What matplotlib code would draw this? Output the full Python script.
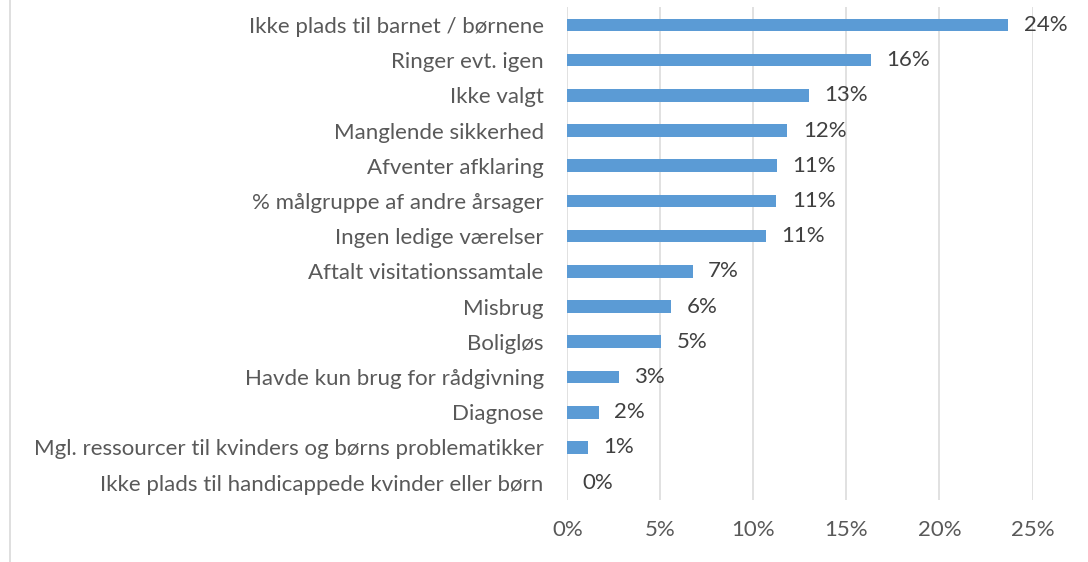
import matplotlib
matplotlib.use("Agg")
import matplotlib.pyplot as plt
from matplotlib.lines import Line2D

# kategorier (oppefra og ned) og andele i procent
kategorier = [
    "Ikke plads til barnet / børnene",
    "Ringer evt. igen",
    "Ikke valgt",
    "Manglende sikkerhed",
    "Afventer afklaring",
    "% målgruppe af andre årsager",
    "Ingen ledige værelser",
    "Aftalt visitationssamtale",
    "Misbrug",
    "Boligløs",
    "Havde kun brug for rådgivning",
    "Diagnose",
    "Mgl. ressourcer til kvinders og børns problematikker",
    "Ikke plads til handicappede kvinder eller børn",
]
andele = [23.7, 16.34, 12.97, 11.83, 11.26, 11.24, 10.7, 6.74, 5.59, 5.04, 2.77, 1.69, 1.1, 0.0]
x_ticks = [0, 5, 10, 15, 20, 25]

plt.rcParams['font.family'] = ['Lato', 'DejaVu Sans']

fig = plt.figure(figsize=(10.88, 5.62), dpi=100)
ax = fig.add_axes([0.5214, 0.110, 0.4276, 0.877])

pos = list(range(len(kategorier)))
ax.barh(pos, andele, height=0.36, color='#5B9BD5', zorder=3)

for p, v in zip(pos, andele):
    ax.annotate(f"{round(v):d}%", (v, p), xytext=(11, 0), textcoords='offset points',
                va='center', ha='left', fontsize=16, color='#404040')

ax.set_ylim(len(kategorier) - 0.5, -0.5)
ax.set_xlim(0, 25)
ax.set_yticks(pos)
ax.set_yticklabels(kategorier)
ax.set_xticks(x_ticks)
ax.set_xticklabels([f"{t}%" for t in x_ticks])
ax.tick_params(axis='y', length=0, pad=17, labelsize=16, labelcolor='#595959')
ax.tick_params(axis='x', length=0, pad=14, labelsize=16, labelcolor='#595959')
ax.grid(axis='x', color='#D9D9D9', linewidth=1.1, zorder=0)
for s in ax.spines.values():
    s.set_visible(False)

# kant til venstre (resten af rammen er beskaaret)
fig.add_artist(Line2D([0.0092, 0.0092], [0, 1], transform=fig.transFigure,
                      color='#D9D9D9', linewidth=1.2))

fig.savefig("out.png", dpi=100)
